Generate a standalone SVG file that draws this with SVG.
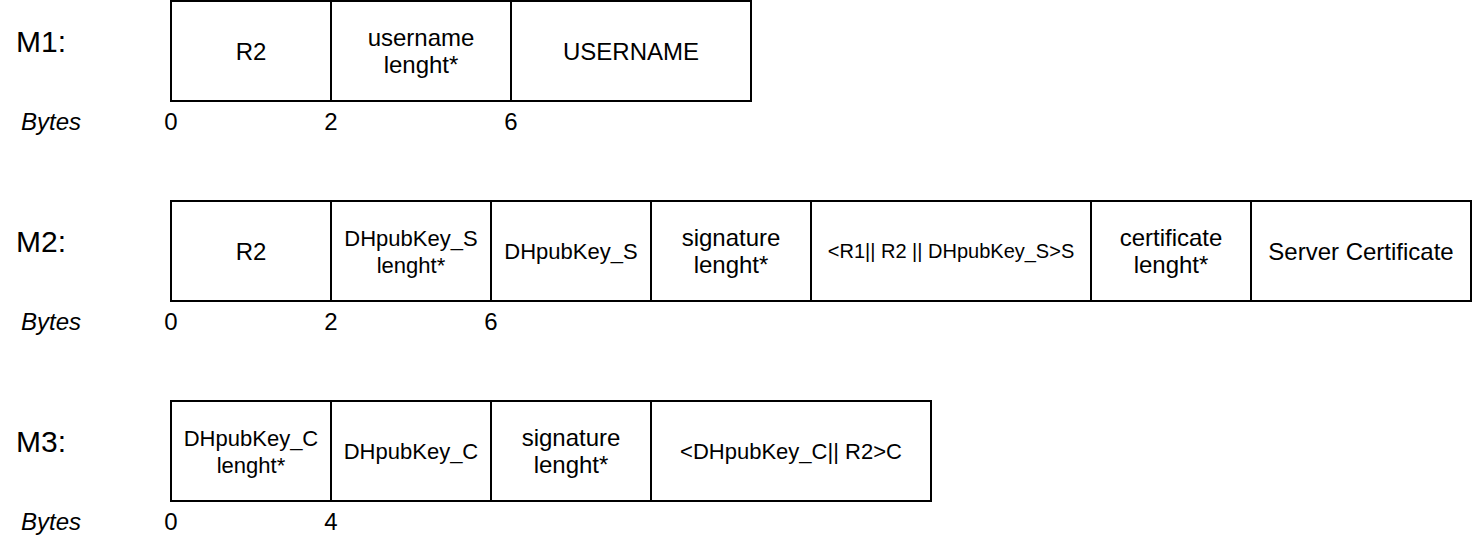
<svg xmlns="http://www.w3.org/2000/svg" width="1472" height="544" viewBox="0 0 1472 544">
<style>
text{font-family:"Liberation Sans",Arial,sans-serif;fill:#000}
.c{text-anchor:middle}
.f24{font-size:24px}
.f22{font-size:22px}
.f20{font-size:20px}
.m{font-size:30px}
.b{font-size:24px;font-style:italic}
.n{font-size:24px;text-anchor:middle}
.box{fill:#fff;stroke:#000;stroke-width:2}
</style>
<rect width="1472" height="544" fill="#fff"/>
<g id="labels">
<text class="m" x="16" y="52">M1:</text>
<text class="m" x="16" y="252">M2:</text>
<text class="m" x="16" y="452">M3:</text>
<text class="b" x="21" y="130">Bytes</text>
<text class="b" x="21" y="330">Bytes</text>
<text class="b" x="21" y="530">Bytes</text>
<text class="n" x="171" y="130">0</text>
<text class="n" x="331" y="130">2</text>
<text class="n" x="511" y="130">6</text>
<text class="n" x="171" y="330">0</text>
<text class="n" x="331" y="330">2</text>
<text class="n" x="491" y="330">6</text>
<text class="n" x="171" y="530">0</text>
<text class="n" x="331" y="530">4</text>
</g>
<g id="m1-r2"><rect class="box" x="171" y="1" width="160" height="100"/><text class="c f24" x="251" y="60">R2</text></g>
<g id="m1-ulen"><rect class="box" x="331" y="1" width="180" height="100"/><text class="c f24" x="421" y="46">username</text><text class="c f24" x="421" y="73">lenght*</text></g>
<g id="m1-user"><rect class="box" x="511" y="1" width="240" height="100"/><text class="c f24" x="631" y="60">USERNAME</text></g>

<g id="m2-r2"><rect class="box" x="171" y="201" width="160" height="100"/><text class="c f24" x="251" y="260">R2</text></g>
<g id="m2-dhlen"><rect class="box" x="331" y="201" width="160" height="100"/><text class="c f22" x="411" y="246">DHpubKey_S</text><text class="c f22" x="411" y="273">lenght*</text></g>
<g id="m2-dh"><rect class="box" x="491" y="201" width="160" height="100"/><text class="c f22" x="571" y="259">DHpubKey_S</text></g>
<g id="m2-siglen"><rect class="box" x="651" y="201" width="160" height="100"/><text class="c f24" x="731" y="246">signature</text><text class="c f24" x="731" y="273">lenght*</text></g>
<g id="m2-sig"><rect class="box" x="811" y="201" width="280" height="100"/><text class="c f20" x="951" y="258">&lt;R1|| R2 || DHpubKey_S&gt;S</text></g>
<g id="m2-certlen"><rect class="box" x="1091" y="201" width="160" height="100"/><text class="c f24" x="1171" y="246">certificate</text><text class="c f24" x="1171" y="273">lenght*</text></g>
<g id="m2-cert"><rect class="box" x="1251" y="201" width="220" height="100"/><text class="c f24" x="1361" y="260">Server Certificate</text></g>

<g id="m3-dhlen"><rect class="box" x="171" y="401" width="160" height="100"/><text class="c f22" x="251" y="446">DHpubKey_C</text><text class="c f22" x="251" y="473">lenght*</text></g>
<g id="m3-dh"><rect class="box" x="331" y="401" width="160" height="100"/><text class="c f22" x="411" y="459">DHpubKey_C</text></g>
<g id="m3-siglen"><rect class="box" x="491" y="401" width="160" height="100"/><text class="c f24" x="571" y="446">signature</text><text class="c f24" x="571" y="473">lenght*</text></g>
<g id="m3-sig"><rect class="box" x="651" y="401" width="280" height="100"/><text class="c f22" x="791" y="459">&lt;DHpubKey_C|| R2&gt;C</text></g>
<g id="connectors"/>
</svg>
